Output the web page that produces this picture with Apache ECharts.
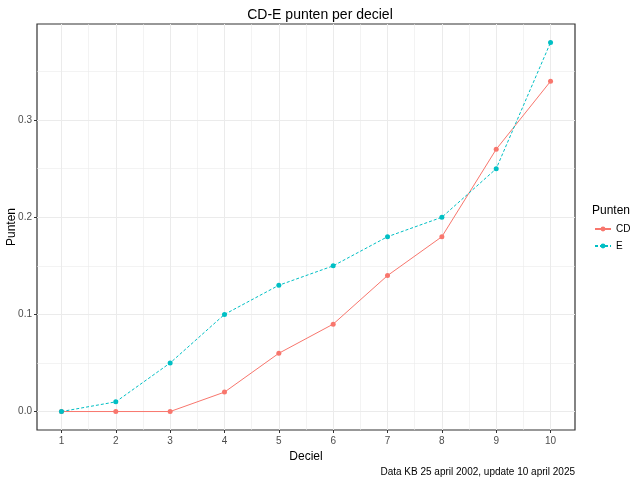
<!DOCTYPE html>
<html><head><meta charset="utf-8">
<script src="https://cdn.jsdelivr.net/npm/echarts@6/dist/echarts.min.js"></script>
<style>html,body{margin:0;padding:0;background:#fff}#c{width:640px;height:480px}</style>
</head><body><div id="c"></div>
<script>
const deciles = [1,2,3,4,5,6,7,8,9,10];
const cdValues = [0,0,0,0.02,0.06,0.09,0.14,0.18,0.27,0.34];
const eValues = [0,0.01,0.05,0.10,0.13,0.15,0.18,0.20,0.25,0.38];
const yTicks = [0,0.1,0.2,0.3];
const yMinor = [0.05,0.15,0.25,0.35];
const xMinor = [1.5,2.5,3.5,4.5,5.5,6.5,7.5,8.5,9.5];

const FONT = 'Liberation Sans, Arial, sans-serif';
const chart = echarts.init(document.getElementById('c'), null, {renderer:'canvas'});
const gridCol = '#ebebeb';
chart.setOption({
  animation:false,
  backgroundColor:'#fff',
  title:[
    {text:'CD-E punten per deciel', left:'center', top:3, textStyle:{fontFamily:FONT, fontSize:14, fontWeight:'normal', color:'#000'}},
    {text:'Punten', left:587, top:200, textStyle:{fontFamily:FONT, fontSize:12, fontWeight:'normal', color:'#000'}},
    {text:'Data KB 25 april 2002, update 10 april 2025', right:60, top:462, textStyle:{fontFamily:FONT, fontSize:10, fontWeight:'normal', color:'#000'}}
  ],
  graphic:[
    {type:'text', x:12, y:227, rotation:Math.PI/2,
     style:{text:'Punten', font:'12px Liberation Sans, Arial, sans-serif', fill:'#000', align:'center', verticalAlign:'middle'}}
  ],
  legend:{
    orient:'vertical', left:589, top:219, itemWidth:16, itemHeight:6, itemGap:7,
    textStyle:{fontFamily:FONT, fontSize:10, color:'#000'},
    data:['CD','E']
  },
  grid:{left:37, right:65, top:24, bottom:50, show:true, borderColor:'#333', borderWidth:1.2, containLabel:false, outerBoundsMode:'none'},
  xAxis:[
    {type:'value', min:0.55, max:10.45, name:'Deciel', nameLocation:'middle', nameGap:19,
     nameTextStyle:{fontFamily:FONT, fontSize:12, color:'#000'},
     axisLine:{show:false, onZero:false}, axisTick:{show:true, customValues:deciles, length:3, lineStyle:{color:'#333'}},
     axisLabel:{customValues:deciles, fontFamily:FONT, fontSize:10, color:'#4d4d4d', margin:6},
     splitLine:{show:true, lineStyle:{color:gridCol, width:1}}},
    {type:'value', min:0.55, max:10.45, position:'top', axisLine:{show:false, onZero:false}, axisTick:{show:false, customValues:xMinor},
     axisLabel:{show:false, customValues:xMinor}, splitLine:{show:true, lineStyle:{color:gridCol, width:0.6}}}
  ],
  yAxis:[
    {type:'value', min:-0.019, max:0.399,
     axisLine:{show:false, onZero:false}, axisTick:{show:true, customValues:yTicks, length:3, lineStyle:{color:'#333'}},
     axisLabel:{customValues:yTicks, formatter:v=>v.toFixed(1), fontFamily:FONT, fontSize:10, color:'#4d4d4d', margin:5},
     splitLine:{show:true, lineStyle:{color:gridCol, width:1}}},
    {type:'value', min:-0.019, max:0.399, position:'right', axisLine:{show:false, onZero:false}, axisTick:{show:false, customValues:yMinor},
     axisLabel:{show:false, customValues:yMinor}, splitLine:{show:true, lineStyle:{color:gridCol, width:0.6}}}
  ],
  series:[
    {name:'CD', type:'line', data:deciles.map((d,i)=>[d,cdValues[i]]), symbol:'circle', symbolSize:5,
     color:'#F8766D', lineStyle:{width:1, color:'#F8766D'}, itemStyle:{color:'#F8766D'}, z:3},
    {name:'E', type:'line', data:deciles.map((d,i)=>[d,eValues[i]]), symbol:'circle', symbolSize:5,
     color:'#00BFC4', lineStyle:{width:1, type:[3,2], color:'#00BFC4'}, itemStyle:{color:'#00BFC4'}, z:4}
  ]
});
</script></body></html>
